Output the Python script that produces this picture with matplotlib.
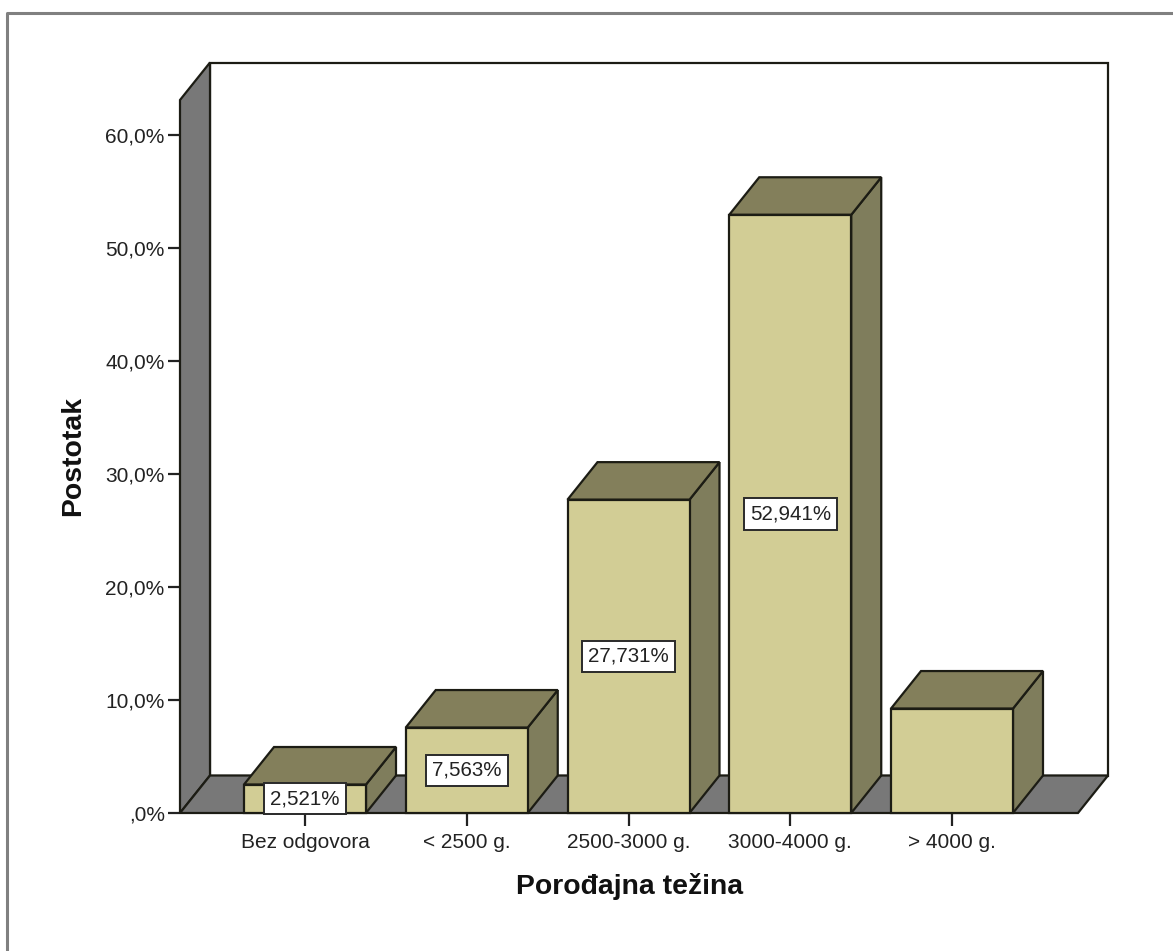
import matplotlib
matplotlib.use("Agg")
import matplotlib.pyplot as plt
from matplotlib.patches import Polygon

plt.rcParams["font.family"] = ["Liberation Sans", "DejaVu Sans"]

# Chart data
categories = ["Bez odgovora", "< 2500 g.", "2500-3000 g.", "3000-4000 g.", "> 4000 g."]
percent = [2.521, 7.563, 27.731, 52.941, 9.244]
bar_labels = ["2,521%", "7,563%", "27,731%", "52,941%", None]
y_ticks = [0, 10, 20, 30, 40, 50, 60]
y_tick_labels = [",0%", "10,0%", "20,0%", "30,0%", "40,0%", "50,0%", "60,0%"]

W, H = 1173, 951
FRONT = "#D2CD95"
TOP = "#837F5B"
SIDE = "#7F7D5C"
WALL = "#787878"
EDGE = "#1c1c14"

fig = plt.figure(figsize=(W / 100, H / 100), dpi=100)
ax = fig.add_axes([180 / W, (H - 813) / H, 898 / W, 713 / H])

# pixels -> data units
px_x = 161.75
px_y = 11.3
xmin, xmax = (180 - 305) / px_x, (1078 - 305) / px_x
ymax = 713 / px_y
ax.set_xlim(xmin, xmax)
ax.set_ylim(0, ymax)
dx = 30 / px_x
dy = 37.5 / px_y
bar_w = 122 / px_x

for s in ax.spines.values():
    s.set_visible(False)
ax.patch.set_visible(False)


def face(pts, color, z):
    ax.add_patch(Polygon(pts, closed=True, facecolor=color, edgecolor=EDGE,
                         linewidth=1.6, joinstyle="miter", clip_on=False, zorder=z))


# back wall, left wall, floor
face([(xmin + dx, dy), (xmax + dx, dy), (xmax + dx, ymax + dy), (xmin + dx, ymax + dy)], "white", 1)
face([(xmin, 0), (xmin + dx, dy), (xmin + dx, ymax + dy), (xmin, ymax)], WALL, 2)
face([(xmin, 0), (xmax, 0), (xmax + dx, dy), (xmin + dx, dy)], WALL, 2)

# bars
for i, v in enumerate(percent):
    l, r = i - bar_w / 2, i + bar_w / 2
    face([(r, 0), (r + dx, dy), (r + dx, v + dy), (r, v)], SIDE, 3)
    face([(l, v), (r, v), (r + dx, v + dy), (l + dx, v + dy)], TOP, 3)
    ax.bar(i, v, width=bar_w, color=FRONT, edgecolor=EDGE, linewidth=1.6, zorder=4, clip_on=False)
    if bar_labels[i]:
        ax.text(i, v / 2, bar_labels[i], ha="center", va="center", fontsize=14.8, color="#222222",
                zorder=6, bbox=dict(boxstyle="square,pad=0.3", facecolor="white",
                                    edgecolor="#2a2a2a", linewidth=1.4))

ax.set_xticks(range(len(categories)))
ax.set_xticklabels(categories)
ax.set_yticks(y_ticks)
ax.set_yticklabels(y_tick_labels)
ax.tick_params(axis="both", length=9, width=1.6, color="#222222", labelsize=15,
               labelcolor="#222222")
ax.tick_params(axis="x", pad=5.5)
ax.tick_params(axis="y", pad=2)

fig.text(630 / W, 1 - 887 / H, "Porođajna težina", ha="center", va="center",
         fontsize=20.4, fontweight="bold", color="#111111")
fig.text(73 / W, 1 - 456 / H, "Postotak", ha="center", va="center", rotation=90,
         fontsize=20.4, fontweight="bold", color="#111111")

# outer frame, only top and left are visible in the picture
fig.add_artist(plt.Line2D([7 / W, 7 / W, 1], [0, 1 - 13 / H, 1 - 13 / H],
                          color="#808080", linewidth=2.2, transform=fig.transFigure))

fig.savefig("out.png", dpi=100, facecolor="white")
